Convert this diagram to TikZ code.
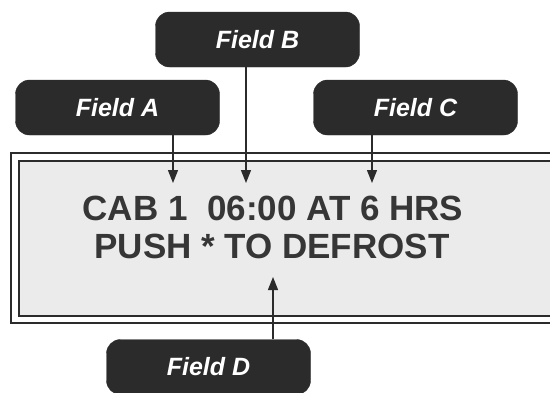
\documentclass[tikz,border=0pt]{standalone}
\usepackage{fontspec}
\setmainfont{Liberation Sans}
\usepackage{xcolor}
\usetikzlibrary{arrows.meta,positioning}
\definecolor{ink}{HTML}{2B2B2B}
\definecolor{lcd}{HTML}{EBEBEB}
\definecolor{lcdink}{HTML}{363636}
\tikzset{
  fieldbox/.style={rectangle, rounded corners=14pt, draw=ink, fill=ink, text=white,
                   minimum width=204pt, minimum height=55pt, inner sep=0pt,
                   font=\fontsize{25}{28}\selectfont\bfseries\itshape},
  lcdline/.style={inner sep=0pt, text=lcdink, font=\fontsize{35}{38}\selectfont\bfseries},
  pointer/.style={-{Triangle[width=10pt, length=13pt]}, draw=ink, line width=1.3pt}
}

\begin{document}
\begin{tikzpicture}[x=1pt, y=-1pt]
  \useasboundingbox (0,0) rectangle (550,392);

  % display frame, double line
  \draw[draw=ink, line width=2.6pt, fill=white] (11,153) rectangle (570,323);
  \draw[draw=ink, line width=2pt, fill=lcd] (19,161) rectangle (570,316);

  \node[lcdline] (line1) at (273,208) {CAB 1\ \ 06:00 AT 6 HRS};
  \node[lcdline] (line2) at (272,246) {PUSH * TO DEFROST};

  % labels
  \node[fieldbox] (fieldB) at (257.5,39.5) {Field B};
  \node[fieldbox] (fieldA) at (117.5,107.5) {Field A};
  \node[fieldbox] (fieldC) at (415.5,107.5) {Field C};
  \node[fieldbox] (fieldD) at (208.5,367) {Field D};

  \coordinate (tipA) at (173,183);
  \coordinate (tipB) at (246,183);
  \coordinate (tipC) at (372,183);
  \coordinate (tipD) at (273,277);

  \draw[pointer] (tipA |- fieldA.south) -- (tipA);
  \draw[pointer] (tipB |- fieldB.south) -- (tipB);
  \draw[pointer] (tipC |- fieldC.south) -- (tipC);
  \draw[pointer] (tipD |- fieldD.north) -- (tipD);
\end{tikzpicture}
\end{document}
